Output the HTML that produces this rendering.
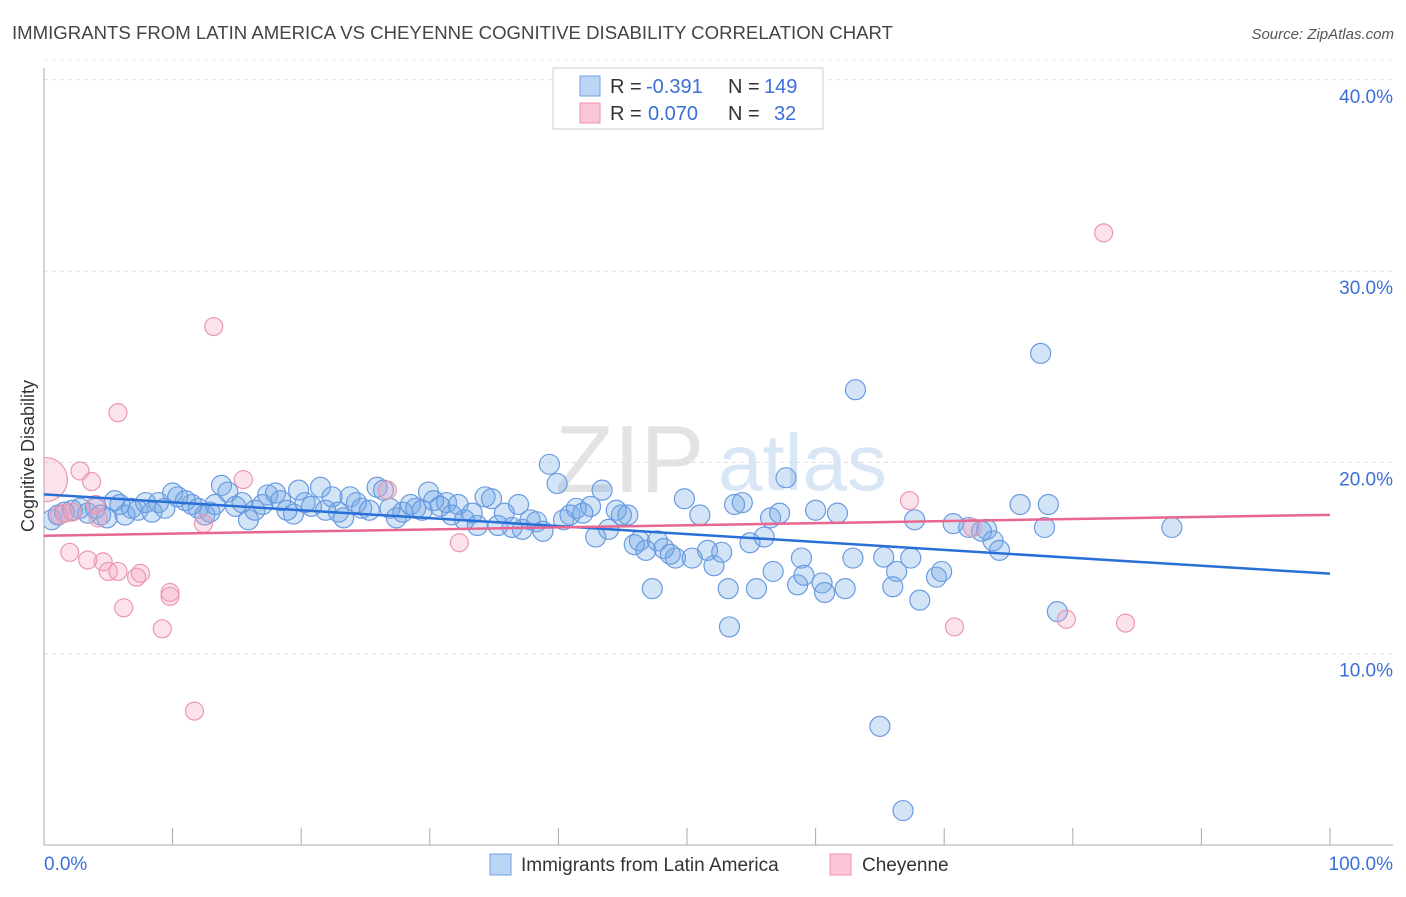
<!DOCTYPE html>
<html><head><meta charset="utf-8">
<style>
body{margin:0;background:#fff;font-family:"Liberation Sans",sans-serif;}
svg text{font-family:"Liberation Sans",sans-serif;}
</style></head>
<body>
<svg id="chart" width="1406" height="892" xmlns="http://www.w3.org/2000/svg">
<defs><clipPath id="plotclip"><rect x="44" y="60" width="1360" height="786"/></clipPath></defs>
<text x="12" y="39" font-size="18.6" fill="#444" textLength="881" lengthAdjust="spacingAndGlyphs">IMMIGRANTS FROM LATIN AMERICA VS CHEYENNE COGNITIVE DISABILITY CORRELATION CHART</text>
<text x="1394" y="39" font-size="15" fill="#555" text-anchor="end" font-style="italic">Source: ZipAtlas.com</text>
<g>
<text x="555" y="492" font-size="96" fill="#ddd" font-family="Liberation Serif" opacity="0.8">ZIP</text>
<text x="718" y="490" font-size="80" fill="#cfe0f5" opacity="0.8">atlas</text>
</g>
<g id="grid"></g>
<g id="axes"></g>
<g id="pts" clip-path="url(#plotclip)"></g>
<g id="lines"></g>
<g>
<rect x="553" y="68" width="270" height="61" fill="#fff" stroke="#ccc"/>
<rect x="580" y="76" width="20" height="20" fill="#bcd5f5" stroke="#6f9fe0"/>
<rect x="580" y="103" width="20" height="20" fill="#fac6d6" stroke="#ec92ad"/>
<text x="610" y="93" font-size="20" fill="#333">R =</text>
<text x="646" y="93" font-size="20" fill="#3a6fd8">-0.391</text>
<text x="728" y="93" font-size="20" fill="#333">N =</text>
<text x="764" y="93" font-size="20" fill="#3a6fd8">149</text>
<text x="610" y="120" font-size="20" fill="#333">R =</text>
<text x="648" y="120" font-size="20" fill="#3a6fd8">0.070</text>
<text x="728" y="120" font-size="20" fill="#333">N =</text>
<text x="774" y="120" font-size="20" fill="#3a6fd8">32</text>
</g>
<g>
<rect x="490" y="854" width="21" height="21" fill="#bcd5f5" stroke="#6f9fe0"/>
<text x="521" y="871" font-size="19" fill="#333">Immigrants from Latin America</text>
<rect x="830" y="854" width="21" height="21" fill="#fac6d6" stroke="#ec92ad"/>
<text x="862" y="871" font-size="19" fill="#333">Cheyenne</text>
</g>
<text transform="translate(34,456) rotate(-90)" font-size="18" fill="#333" text-anchor="middle">Cognitive Disability</text>
</svg>
<script>
const blueX=[0.6,1.1,1.6,2.2,2.8,3.4,4.0,4.4,4.9,5.5,5.9,6.3,6.8,7.3,7.9,8.4,8.9,9.4,10.0,10.4,11.0,11.5,12.0,12.5,12.9,13.3,13.8,14.3,14.9,15.4,15.9,16.4,17.0,17.4,18.0,18.4,18.9,19.4,19.8,20.3,20.8,21.5,21.9,22.4,22.9,23.3,23.8,24.3,24.7,25.3,25.9,26.4,26.9,27.4,27.9,28.5,28.9,29.4,29.9,30.3,30.8,31.3,31.7,32.2,32.7,33.3,33.7,34.3,34.8,35.3,35.8,36.4,36.9,37.2,37.8,38.3,38.8,39.3,39.9,40.4,40.9,41.4,41.9,42.5,42.9,43.4,43.9,44.5,44.9,45.4,45.9,46.3,46.8,47.3,47.7,48.2,48.7,49.1,49.8,50.4,51.0,51.6,52.1,52.7,53.2,53.7,54.3,54.9,55.4,56.0,56.5,56.7,57.2,57.7,58.6,58.9,59.1,60.0,60.5,60.7,61.7,62.3,62.9,63.1,65.3,66.0,66.3,66.8,65.0,67.4,67.7,68.1,69.4,69.8,70.7,73.3,73.8,74.3,75.9,77.5,77.8,78.1,78.8,87.7,53.3,71.9,72.9];
const blueY=[17.0,17.25,17.4,17.5,17.6,17.35,17.6,17.25,17.1,18.0,17.8,17.25,17.6,17.5,17.9,17.4,17.9,17.6,18.4,18.2,18.0,17.8,17.6,17.25,17.4,17.8,18.8,18.45,17.7,17.9,17.0,17.5,17.8,18.3,18.4,18.0,17.5,17.3,18.55,17.9,17.7,18.7,17.5,18.2,17.4,17.1,18.2,17.9,17.6,17.5,18.7,18.55,17.6,17.1,17.4,17.8,17.6,17.5,18.45,18.0,17.7,17.9,17.25,17.8,17.0,17.35,16.7,18.2,18.1,16.7,17.35,16.6,17.8,16.5,17.0,16.9,16.4,19.9,18.9,17.0,17.25,17.6,17.35,17.7,16.1,18.55,16.5,17.5,17.25,17.25,15.7,15.9,15.4,13.4,15.9,15.5,15.2,15.0,18.1,15.0,17.25,15.4,14.6,15.3,13.4,17.8,17.9,15.8,13.4,16.1,17.1,14.3,17.35,19.2,13.6,15.0,14.1,17.5,13.7,13.2,17.35,13.4,15.0,23.8,15.05,13.5,14.3,1.8,6.2,15.0,17.0,12.8,14.0,14.3,16.8,16.5,15.9,15.4,17.8,25.7,16.6,17.8,12.2,16.6,11.4,16.6,16.4];
const pinkX=[0.1,1.2,1.6,2.0,2.2,2.8,3.4,3.7,4.0,4.2,4.6,5.0,5.75,5.75,6.2,7.2,7.5,9.2,9.8,9.8,11.7,12.4,13.2,15.5,26.7,32.3,67.3,70.8,72.2,79.5,82.4,84.1];
const pinkY=[19.1,17.25,17.35,15.3,17.4,19.55,14.9,19.0,17.8,17.1,14.8,14.3,22.6,14.3,12.4,14.0,14.2,11.3,13.2,13.0,7.0,16.8,27.1,19.1,18.55,15.8,18.0,11.4,16.6,11.8,32.0,11.6];
const pinkWeight=[6,1,1,1,1,1,1,1,1,1,1,1,1,1,1,1,1,1,1,1,1,1,1,1,1,1,1,1,1,1,1,1];
const yTicks=[10,20,30,40];
const yTickLabels=["10.0%","20.0%","30.0%","40.0%"];
const xTickVals=[0,10,20,30,40,50,60,70,80,90,100];

const NS="http://www.w3.org/2000/svg";
const X=v=>44+v*12.86, Y=v=>845-v*19.13;
function mk(t,a,p){const e=document.createElementNS(NS,t);for(const k in a)e.setAttribute(k,a[k]);p.appendChild(e);return e;}
const grid=document.getElementById('grid'),axes=document.getElementById('axes'),pts=document.getElementById('pts'),lines=document.getElementById('lines');
yTicks.forEach((v,i)=>{
 const l=mk('line',{x1:44,x2:1393,y1:Y(v),y2:Y(v),stroke:'#ddd','stroke-dasharray':'4,4'},grid);
 
 
 const t=mk('text',{x:1393,y:Y(v)+23,'font-size':19,fill:'#3a6fd8','text-anchor':'end'},axes);
 t.textContent=yTickLabels[i];
 
 
});
const gl=mk('line',{x1:44,x2:1393,y1:Y(41),y2:Y(41),stroke:'#eee','stroke-dasharray':'4,4'},grid);


const ya=mk('line',{x1:44,x2:44,y1:68,y2:845,stroke:'#aaa'},axes);


const xa=mk('line',{x1:44,x2:1393,y1:845,y2:845,stroke:'#aaa'},axes);


xTickVals.forEach(v=>{
 const t=mk('line',{x1:X(v),x2:X(v),y1:828,y2:845,stroke:'#aaa'},axes);
 
 
});
const x0=mk('text',{x:44,y:870,'font-size':19,fill:'#3a6fd8'},axes);x0.textContent='0.0%';


const x1=mk('text',{x:1393,y:870,'font-size':19,fill:'#3a6fd8','text-anchor':'end'},axes);x1.textContent='100.0%';


blueX.forEach((v,i)=>{
 const c=mk('circle',{cx:X(v),cy:Y(blueY[i]),r:10,fill:'rgba(110,165,230,0.3)',stroke:'#6a9be0','stroke-width':1.2},pts);
 
 
});
pinkX.forEach((v,i)=>{
 const c=mk('circle',{cx:X(v),cy:Y(pinkY[i]),r:9*Math.sqrt(pinkWeight[i]),fill:'rgba(245,160,190,0.3)',stroke:'#eb98b2','stroke-width':1.2},pts);
 
 
});
function reg(xs,ys){const n=xs.length;let mx=0,my=0;xs.forEach((x,i)=>{mx+=x;my+=ys[i];});mx/=n;my/=n;let sxy=0,sxx=0;xs.forEach((x,i)=>{sxy+=(x-mx)*(ys[i]-my);sxx+=(x-mx)*(x-mx);});const b=sxy/sxx;return [my-b*mx,b];}
const [ba,bb]=reg(blueX,blueY),[pa,pb]=reg(pinkX,pinkY);
const bl=mk('line',{x1:X(0),y1:Y(ba),x2:X(100),y2:Y(ba+bb*100),stroke:'#2a6fd6','stroke-width':2.5},lines);


const pl=mk('line',{x1:X(0),y1:Y(pa),x2:X(100),y2:Y(pa+pb*100),stroke:'#e8668f','stroke-width':2.5},lines);


</script>
</body></html>
